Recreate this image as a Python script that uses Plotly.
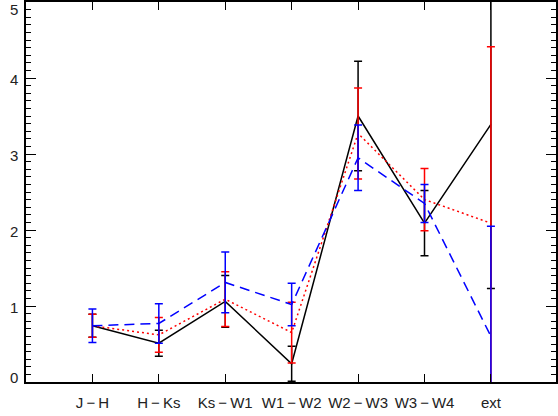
import plotly.graph_objects as go

# Colour indices along the x axis
categories = ["J\u2212H", "H\u2212Ks", "Ks\u2212W1", "W1\u2212W2", "W2\u2212W3", "W3\u2212W4", "ext"]

# Three model series with symmetric uncertainties
solid_vals = [0.74, 0.51, 1.06, 0.24, 3.50, 2.09, 3.39]
solid_errs = [0.15, 0.17, 0.34, 0.23, 0.72, 0.43, 2.16]

dotted_vals = [0.74, 0.62, 1.09, 0.65, 3.27, 2.40, 2.09]
dotted_errs = [0.15, 0.23, 0.36, 0.40, 0.60, 0.41, 2.32]

dashed_vals = [0.74, 0.77, 1.31, 1.02, 2.95, 2.35, 0.60]
dashed_errs = [0.22, 0.26, 0.40, 0.28, 0.43, 0.25, 1.45]

y_ticks = [0, 1, 2, 3, 4, 5]

x_idx = list(range(len(categories)))
# widen the minus sign spacing in the category labels
tick_text = [c.replace("\u2212", "\u2009\u2212\u2009") for c in categories]

fig = go.Figure()

series = [
    (solid_vals, solid_errs, "black", "solid"),
    (dotted_vals, dotted_errs, "#ff0000", "2px,3px"),
    (dashed_vals, dashed_errs, "#0000ff", "10px,6px"),
]
for vals, errs, col, dash in series:
    fig.add_trace(go.Scatter(
        x=x_idx, y=vals, mode="lines",
        line=dict(color=col, width=1.5, dash=dash),
        error_y=dict(type="data", array=errs, visible=True,
                     color=col, thickness=1.5, width=4),
        showlegend=False,
    ))

fig.update_xaxes(
    range=[-1, 6.98], tickmode="array", tickvals=x_idx, ticktext=tick_text,
    ticks="inside", ticklen=8, tickwidth=1.2, tickcolor="black",
    showline=True, linecolor="black", linewidth=1.5, mirror="ticks",
    showgrid=False, zeroline=False, ticklabelstandoff=6,
    tickfont=dict(family="Liberation Sans", size=15, color="#222"),
)
fig.update_yaxes(
    range=[0, 5], tickmode="array", tickvals=y_ticks,
    ticks="inside", ticklen=10, tickwidth=1.2, tickcolor="black",
    minor=dict(dtick=0.1, ticks="inside", ticklen=5, tickwidth=1, tickcolor="black"),
    showline=True, linecolor="black", linewidth=1.5, mirror="ticks",
    showgrid=False, zeroline=False, showticklabels=False,
)

# y tick labels placed as text just left of the axis
label_shift = {0: 5, 5: -7}
for v in y_ticks:
    fig.add_annotation(
        x=0, xref="paper", y=v, yref="y", text=str(v), showarrow=False,
        xanchor="right", xshift=-6, yshift=label_shift.get(v, -1.5),
        font=dict(family="Liberation Sans", size=15, color="#222"),
    )

fig.update_layout(
    width=558, height=416,
    margin=dict(l=26, r=0, t=2, b=34),
    paper_bgcolor="white", plot_bgcolor="white",
)

fig.write_html("out.html")
